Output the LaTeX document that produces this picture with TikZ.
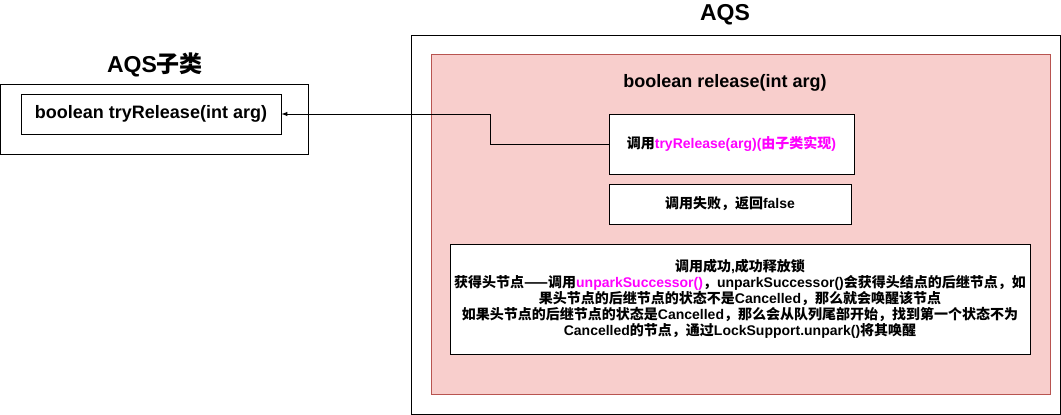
\documentclass[tikz,border=0pt]{standalone}
\usepackage{fontspec}
\setmainfont{Liberation Sans}
\newfontfamily\cjk{Noto Sans CJK SC}
\usetikzlibrary{arrows.meta}
\newcommand{\zh}[1]{{\cjk #1}}
\definecolor{pinkfill}{HTML}{F8CECC}
\definecolor{redline}{HTML}{B85450}
\definecolor{callpink}{HTML}{FF00FF}

\begin{document}
\begin{tikzpicture}[>=latex, x=1pt, y=-1pt,
    box/.style={draw, line width=1pt, inner sep=0pt, align=center},
    title/.style={font=\fontsize{23}{26}\selectfont\bfseries},
    small/.style={font=\fontsize{14}{16}\selectfont\bfseries}]

\useasboundingbox (0,0) rectangle (1061,415);

% AQS subclass
\node[title] (subtitle) at (155,65) {AQS\zh{子类}};
\node[box, minimum width=307.5pt, minimum height=70pt] (subouter) at (154.25,119) {};
\node[box, minimum width=260pt, minimum height=40pt, font=\fontsize{18}{20}\selectfont\bfseries] (sub) at (151,114) {boolean tryRelease(int arg)};

% AQS
\node[title] (aqstitle) at (725,15) {AQS};
\node[box, minimum width=649pt, minimum height=379pt] (aqs) at (735.5,224.5) {};
\node[box, draw=redline, fill=pinkfill, minimum width=619pt, minimum height=340pt] (release) at (740.5,224) {};
\node[font=\fontsize{18}{20}\selectfont\bfseries] (releasetitle) at (725,83) {boolean release(int arg)};

\node[box, small, fill=white, minimum width=245pt, minimum height=60pt] (tryrel) at (731.5,144)
  {\zh{调用}\textcolor{callpink}{tryRelease(arg)(\zh{由子类实现})}};
\node[box, small, fill=white, minimum width=242pt, minimum height=40pt] (fail) at (730,204)
  {\zh{调用失败，返回}false};
\node[box, small, fill=white, minimum width=580pt, minimum height=110pt] (succ) at (740,299)
  {\zh{调用成功},\zh{成功释放锁}\\
   \zh{获得头节点——调用}\textcolor{callpink}{unparkSuccessor()}\zh{，}unparkSuccessor()\zh{会获得头结点的后继节点，如}\\
   \zh{果头节点的后继节点的状态不是}Cancelled\zh{，那么就会唤醒该节点}\\
   \zh{如果头节点的后继节点的状态是}Cancelled\zh{，那么会从队列尾部开始，找到第一个状态不为}\\
   Cancelled\zh{的节点，通过}LockSupport.unpark()\zh{将其唤醒}};

% call into the subclass
\coordinate (knee) at (490,114);
\draw[->, line width=1pt] (tryrel.west) -| (knee) -- (sub.east);

\end{tikzpicture}
\end{document}
